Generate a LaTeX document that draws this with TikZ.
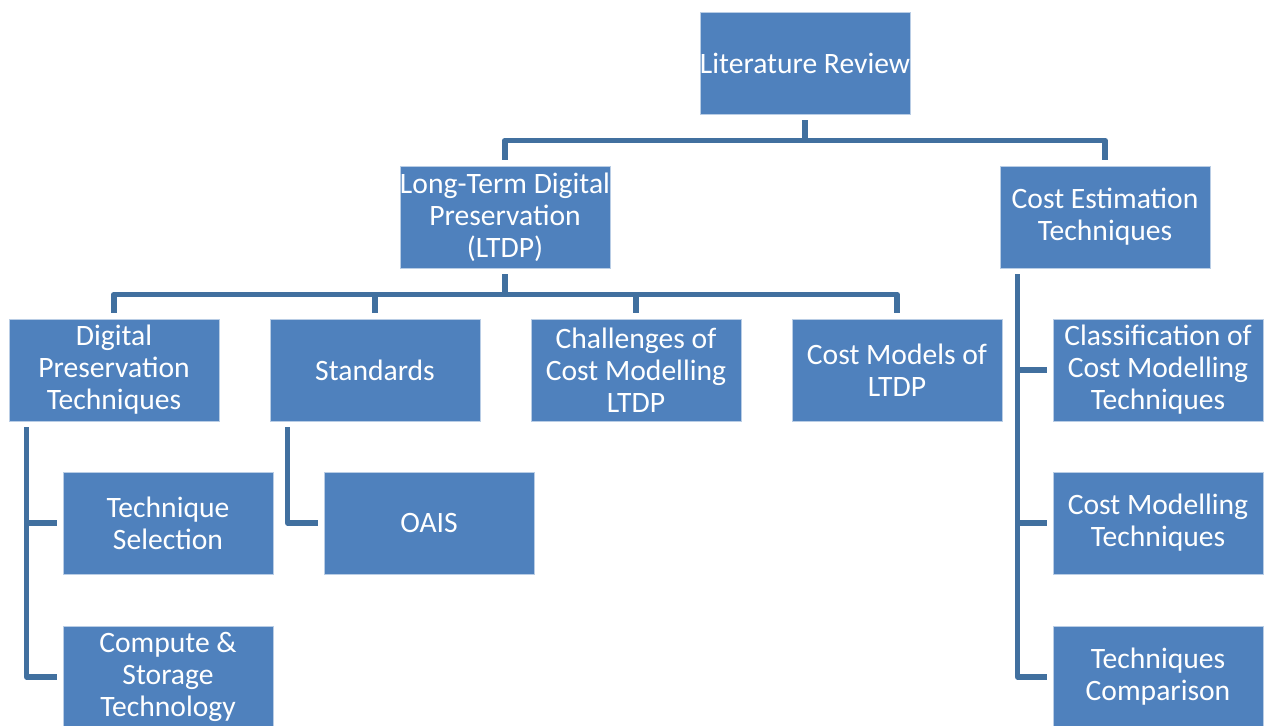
\documentclass[tikz,border=0pt]{standalone}
\usepackage{fontspec}
\setmainfont{Carlito}
\definecolor{boxblue}{HTML}{4F81BD}
\definecolor{boxedge}{HTML}{B9CDE5}
\definecolor{linkblue}{HTML}{41709F}
\tikzset{
  box/.style={rectangle, fill=boxblue, draw=boxedge, line width=0.4pt,
    minimum width=105pt, minimum height=51pt, inner sep=0pt,
    text=white, align=center, font=\fontsize{14.8}{16}\selectfont},
  link/.style={draw=linkblue, line width=2.8pt, line join=round,
    shorten <=3pt, shorten >=3pt}
}
\begin{document}
\begin{tikzpicture}[x=0.5pt, y=-0.5pt]
  \useasboundingbox (0,0) rectangle (1272,726);
  % top levels
  \node[box] (lit)  at (805,63)   {Literature Review};
  \node[box] (ltdp) at (505,217)  {Long-Term Digital\\Preservation\\(LTDP)};
  \node[box] (cet)  at (1105,217) {Cost Estimation\\Techniques};
  % LTDP branch
  \node[box] (dpt)  at (114,370)  {Digital\\Preservation\\Techniques};
  \node[box] (std)  at (375,370)  {Standards};
  \node[box] (chl)  at (636,370)  {Challenges of\\Cost Modelling\\LTDP};
  \node[box] (cml)  at (897,370)  {Cost Models of\\LTDP};
  \node[box] (sel)  at (168,523)  {Technique\\Selection};
  \node[box] (cst)  at (168,677)  {Compute \&\\Storage\\Technology};
  \node[box] (oais) at (429,523)  {OAIS};
  % cost estimation branch
  \node[box] (cls)  at (1158,370) {Classification of\\Cost Modelling\\Techniques};
  \node[box] (cmt)  at (1158,523) {Cost Modelling\\Techniques};
  \node[box] (cmp)  at (1158,677) {Techniques\\Comparison};

  \foreach \c in {ltdp,cet}
    \draw[link] (lit.south) -- ++(0,26) -| (\c.north);
  \foreach \c in {dpt,std,chl,cml}
    \draw[link] (ltdp.south) -- ++(0,26) -| (\c.north);
  \foreach \p/\c in {dpt/sel,dpt/cst,std/oais,cet/cls,cet/cmt,cet/cmp}
    \draw[link] ([xshift=9pt]\p.south west) |- (\c.west);
\end{tikzpicture}
\end{document}
